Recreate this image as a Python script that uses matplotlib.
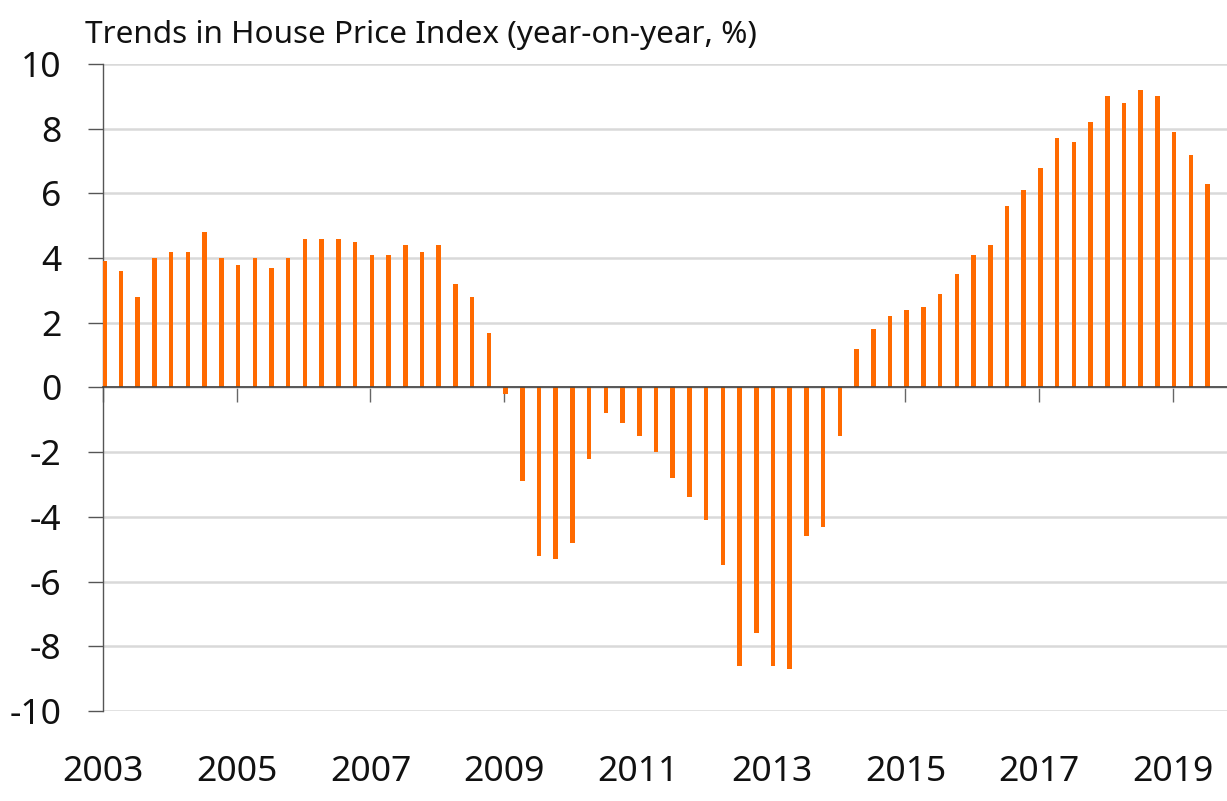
import matplotlib
matplotlib.use("Agg")
import matplotlib.pyplot as plt
import numpy as np

years = list(range(2003, 2020))
quarters = [f"{y}Q{q}" for y in years for q in range(1, 5)][:67]
values = [
    3.9, 3.6, 2.8, 4.0,
    4.2, 4.2, 4.8, 4.0,
    3.8, 4.0, 3.7, 4.0,
    4.6, 4.6, 4.6, 4.5,
    4.1, 4.1, 4.4, 4.2,
    4.4, 3.2, 2.8, 1.7,
    -0.2, -2.9, -5.2, -5.3,
    -4.8, -2.2, -0.8, -1.1,
    -1.5, -2.0, -2.8, -3.4,
    -4.1, -5.5, -8.6, -7.6,
    -8.6, -8.7, -4.6, -4.3,
    -1.5, 1.2, 1.8, 2.2,
    2.4, 2.5, 2.9, 3.5,
    4.1, 4.4, 5.6, 6.1,
    6.8, 7.7, 7.6, 8.2,
    9.0, 8.8, 9.2, 9.0,
    7.9, 7.2, 6.3,
]
xtick_years = list(range(2003, 2020, 2))
yticks = list(range(-10, 11, 2))
title = "Trends in House Price Index (year-on-year, %)"

font = "Noto Sans"
plt.rcParams['font.family'] = [font, 'DejaVu Sans']

x = np.array([int(q[:4]) + (int(q[-1]) - 1) * 0.25 for q in quarters]) + 0.02

W, H = 1227, 801
fig = plt.figure(figsize=(W / 100, H / 100), dpi=100)
ax = fig.add_axes([103 / W, 1 - 711 / H, (W - 103) / W, 647 / H])

ax.bar(x, values, width=0.068, color="#FF6A00", linewidth=0, zorder=3)

ax.set_xlim(2003.0, 2019.81)
ax.set_ylim(-10, 10)
ax.set_yticks(yticks)
ax.set_yticklabels([str(v) for v in yticks], fontsize=25.5, color="#111111")
ax.yaxis.grid(True, color="#D9D9D9", linewidth=1.8, zorder=0)
ax.set_axisbelow(True)
ax.tick_params(axis='y', direction='out', length=10.8, width=1.0, color="#555555", pad=19)

ax.spines['top'].set_visible(False)
ax.spines['right'].set_visible(False)
ax.spines['left'].set_color("#555555")
ax.spines['left'].set_linewidth(1.0)
ax.spines['bottom'].set_position(('data', 0))
ax.spines['bottom'].set_color("#404040")
ax.spines['bottom'].set_linewidth(1.2)
ax.spines['bottom'].set_zorder(4)
ax.set_xticks(xtick_years)
ax.tick_params(axis='x', direction='out', length=10.8, width=1.0, color="#666666",
               labelbottom=False)

sec = ax.secondary_xaxis(0)
sec.set_xticks(xtick_years)
sec.set_xticklabels([str(y) for y in xtick_years], fontsize=25.5, color="#111111")
sec.tick_params(axis='x', length=0, pad=32)
sec.spines['bottom'].set_visible(False)

fig.text(85 / W, 1 - 43 / H, title, fontsize=22.7, color="#111111",
         ha='left', va='baseline')

fig.savefig("out.png", dpi=100)
